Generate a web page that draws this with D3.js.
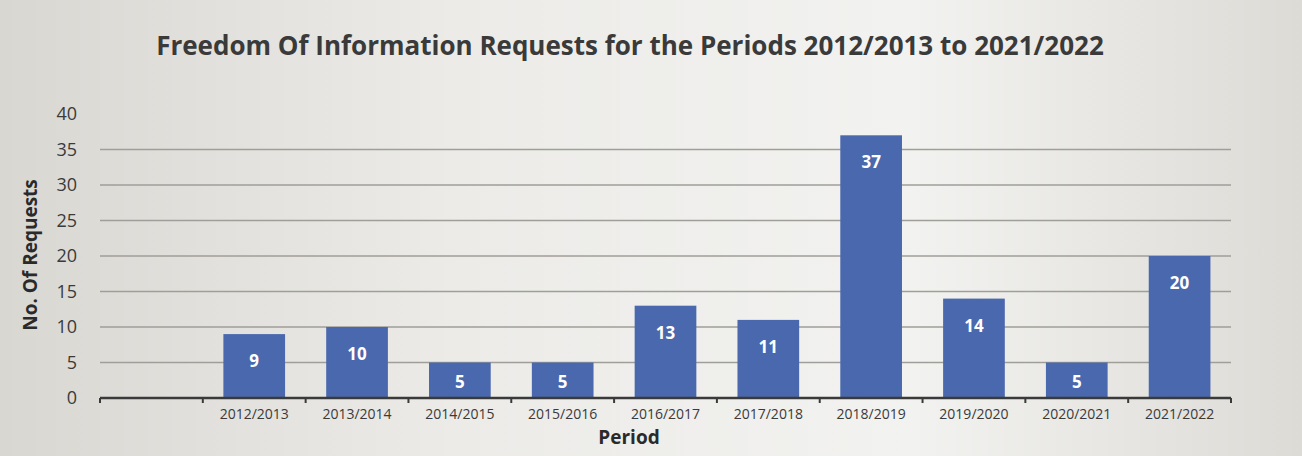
<!DOCTYPE html>
<html><head><meta charset="utf-8">
<script src="https://cdn.jsdelivr.net/npm/d3@7"></script>
<style>body{margin:0;background:#e6e5e1;}svg{display:block;}</style>
</head><body>
<svg id="c" width="1302" height="456"></svg>
<script>
const categories = ["", "2012/2013","2013/2014","2014/2015","2015/2016","2016/2017","2017/2018","2018/2019","2019/2020","2020/2021","2021/2022"];
const values = [null, 9, 10, 5, 5, 13, 11, 37, 14, 5, 20];
const yTicks = [0,5,10,15,20,25,30,35,40];
const title = "Freedom Of Information Requests for the Periods 2012/2013 to 2021/2022";

const svg = d3.select("#c");
const W = 1302, H = 456;
const defs = svg.append("defs");
const g1 = defs.append("linearGradient").attr("id","bg").attr("x1","0").attr("x2","1").attr("y1","0").attr("y2","0");
g1.append("stop").attr("offset","0").attr("stop-color","#d9d7d2");
g1.append("stop").attr("offset","0.35").attr("stop-color","#ecebe8");
g1.append("stop").attr("offset","0.7").attr("stop-color","#f2f2f0");
g1.append("stop").attr("offset","1").attr("stop-color","#dddbd6");
svg.append("rect").attr("width",W).attr("height",H).attr("fill","url(#bg)");

const font = "'Open Sans', 'Noto Sans', sans-serif";
const x = d3.scaleBand().domain(categories.map((c,i)=>i)).range([100,1231]).paddingInner(0.4).paddingOuter(0.2);
const y = d3.scaleLinear().domain([0,40]).range([398,114]);

svg.append("text").attr("x",630).attr("y",55).attr("text-anchor","middle")
  .attr("font-family",font).attr("font-weight","bold").attr("font-size",26).attr("fill","#3a3a3a").text(title);

// gridlines (top line not visible in reference)
svg.append("g").selectAll("line").data(yTicks.filter(t=>t>0 && t<40)).join("line")
  .attr("x1",100).attr("x2",1231).attr("y1",d=>y(d)).attr("y2",d=>y(d))
  .attr("stroke","#a09e98").attr("stroke-width",1.5);

// y axis labels
const ya = svg.append("g").attr("transform","translate(77,0)").call(d3.axisLeft(y).tickValues(yTicks).tickSize(0).tickPadding(0));
ya.select(".domain").remove();
ya.selectAll("text").attr("font-family",font).attr("font-size",18).attr("fill","#3a3a3a");

// bars
const data = categories.map((c,i)=>({i, c, v: values[i]})).filter(d=>d.v!=null);
svg.append("g").selectAll("rect").data(data).join("rect")
  .attr("x",d=>x(d.i)).attr("width",x.bandwidth())
  .attr("y",d=>y(d.v)).attr("height",d=>y(0)-y(d.v))
  .attr("fill","#4a68ad");

svg.append("g").selectAll("text").data(data).join("text")
  .attr("x",d=>x(d.i)+x.bandwidth()/2)
  .attr("y",d=>Math.min(y(d.v)+27,(y(d.v)+y(0))/2+2))
  .attr("dy","0.35em").attr("text-anchor","middle")
  .attr("font-family",font).attr("font-weight","bold").attr("font-size",17).attr("fill","#ffffff")
  .text(d=>d.v);

// x axis
const xStep = x.step();
const xa = svg.append("g").attr("transform",`translate(0,${y(0)})`);
xa.append("line").attr("x1",100).attr("x2",1231).attr("stroke","#3a3a3a").attr("stroke-width",2.5);
xa.selectAll("line.tk").data(d3.range(categories.length+1)).join("line").attr("class","tk")
  .attr("x1",d=>100+d*xStep).attr("x2",d=>100+d*xStep).attr("y1",0).attr("y2",5)
  .attr("stroke","#3a3a3a").attr("stroke-width",2);
xa.selectAll("text").data(categories.map((c,i)=>({c,i}))).join("text")
  .attr("x",d=>x(d.i)+x.bandwidth()/2).attr("y",21)
  .attr("text-anchor","middle").attr("font-family",font).attr("font-size",14).attr("fill","#3a3a3a")
  .text(d=>d.c);

svg.append("text").attr("x",629).attr("y",444).attr("text-anchor","middle")
  .attr("font-family",font).attr("font-weight","bold").attr("font-size",19).attr("fill","#2a2a2a").text("Period");

svg.append("text").attr("transform","translate(37,255) rotate(-90)").attr("text-anchor","middle")
  .attr("font-family",font).attr("font-weight","bold").attr("font-size",19).attr("fill","#2a2a2a").text("No. Of Requests");
</script>
</body></html>
